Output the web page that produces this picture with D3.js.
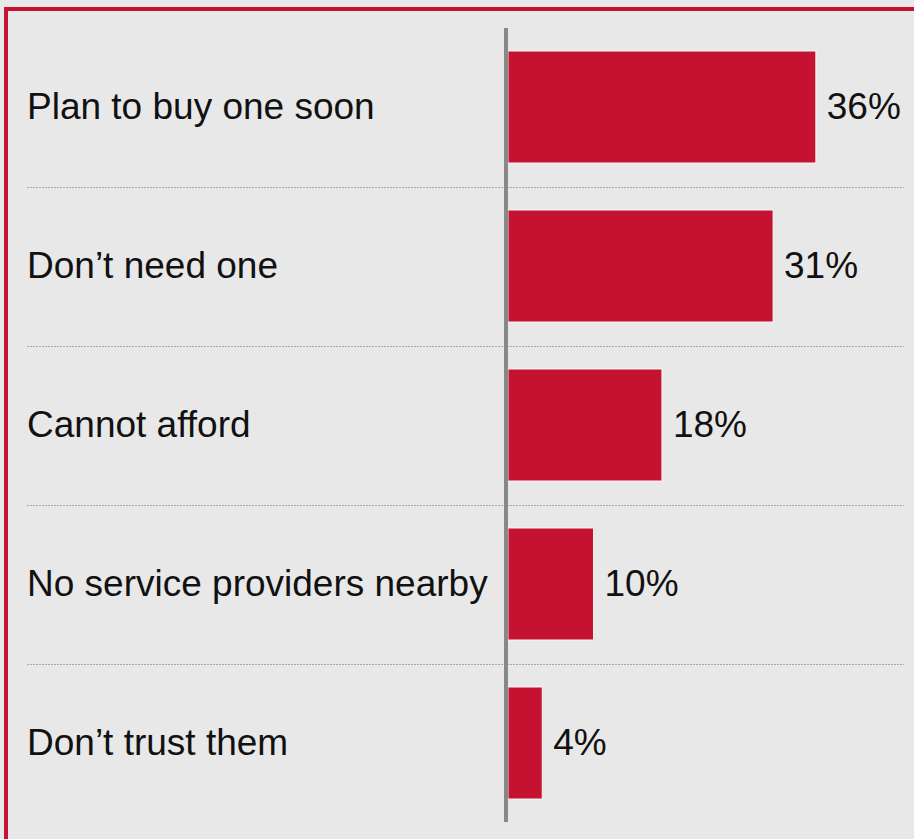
<!DOCTYPE html>
<html>
<head>
<meta charset="utf-8">
<script src="https://cdn.jsdelivr.net/npm/d3@7"></script>
<style>
  html, body { margin: 0; padding: 0; background: #e8e8e8; }
  svg { display: block; }
</style>
</head>
<body>
<svg id="chart" width="914" height="839"></svg>
<script>
// Reasons for not having one (share of respondents, %)
const categories = [
  "Plan to buy one soon",
  "Don\u2019t need one",
  "Cannot afford",
  "No service providers nearby",
  "Don\u2019t trust them"
];
const values = [36, 31, 18, 10, 4];
const valueLabels = ["36%", "31%", "18%", "10%", "4%"];

const W = 914, H = 839;
const svg = d3.select("#chart");

const red = "#c41230";
const axisX = 506;

// Frame: red rules along the top and left edges
svg.append("rect").attr("x", 0).attr("y", 0).attr("width", W).attr("height", H).attr("fill", "#e8e8e8");
svg.append("rect").attr("x", 4).attr("y", 7).attr("width", W - 4).attr("height", 4).attr("fill", red);
svg.append("rect").attr("x", 4).attr("y", 7).attr("width", 4).attr("height", H - 7).attr("fill", red);

const y = d3.scaleBand()
  .domain(categories)
  .range([27.5, 822.5])
  .paddingInner(0.296)
  .paddingOuter(0.148);

const x = d3.scaleLinear()
  .domain([0, 36])
  .range([axisX + 2, axisX + 2 + 307.8]);

const data = categories.map((c, i) => ({ cat: c, v: values[i], label: valueLabels[i] }));

// Dotted separators between rows
const sepY = categories.slice(1).map(c => y(c) - y.step() * y.paddingInner() / 2);
svg.append("g").selectAll("line").data(sepY).join("line")
  .attr("x1", 27).attr("x2", 904)
  .attr("y1", d => Math.round(d) + 0.5).attr("y2", d => Math.round(d) + 0.5)
  .attr("stroke", "#a8a8a8")
  .attr("stroke-width", 1)
  .attr("stroke-dasharray", "2,1");

// Bars
svg.append("g").selectAll("rect").data(data).join("rect")
  .attr("x", x(0))
  .attr("y", d => y(d.cat))
  .attr("width", d => x(d.v) - x(0))
  .attr("height", y.bandwidth())
  .attr("fill", red)
  .attr("stroke", "rgba(255,255,255,0.85)")
  .attr("stroke-width", 1);

// Vertical axis rule
svg.append("line")
  .attr("x1", axisX).attr("x2", axisX)
  .attr("y1", 28).attr("y2", 822)
  .attr("stroke", "#888888")
  .attr("stroke-width", 4);

const font = "'Liberation Sans', Arial, sans-serif";

// Category labels
svg.append("g").selectAll("text").data(data).join("text")
  .attr("x", 27)
  .attr("y", d => y(d.cat) + y.bandwidth() / 2 + 12)
  .attr("font-family", font)
  .attr("font-size", 37)
  .attr("fill", "#111")
  .text(d => d.cat);

// Value labels
svg.append("g").selectAll("text").data(data).join("text")
  .attr("x", d => x(d.v) + 11)
  .attr("y", d => y(d.cat) + y.bandwidth() / 2 + 12)
  .attr("font-family", font)
  .attr("font-size", 37)
  .attr("fill", "#111")
  .text(d => d.label);
</script>
</body>
</html>
